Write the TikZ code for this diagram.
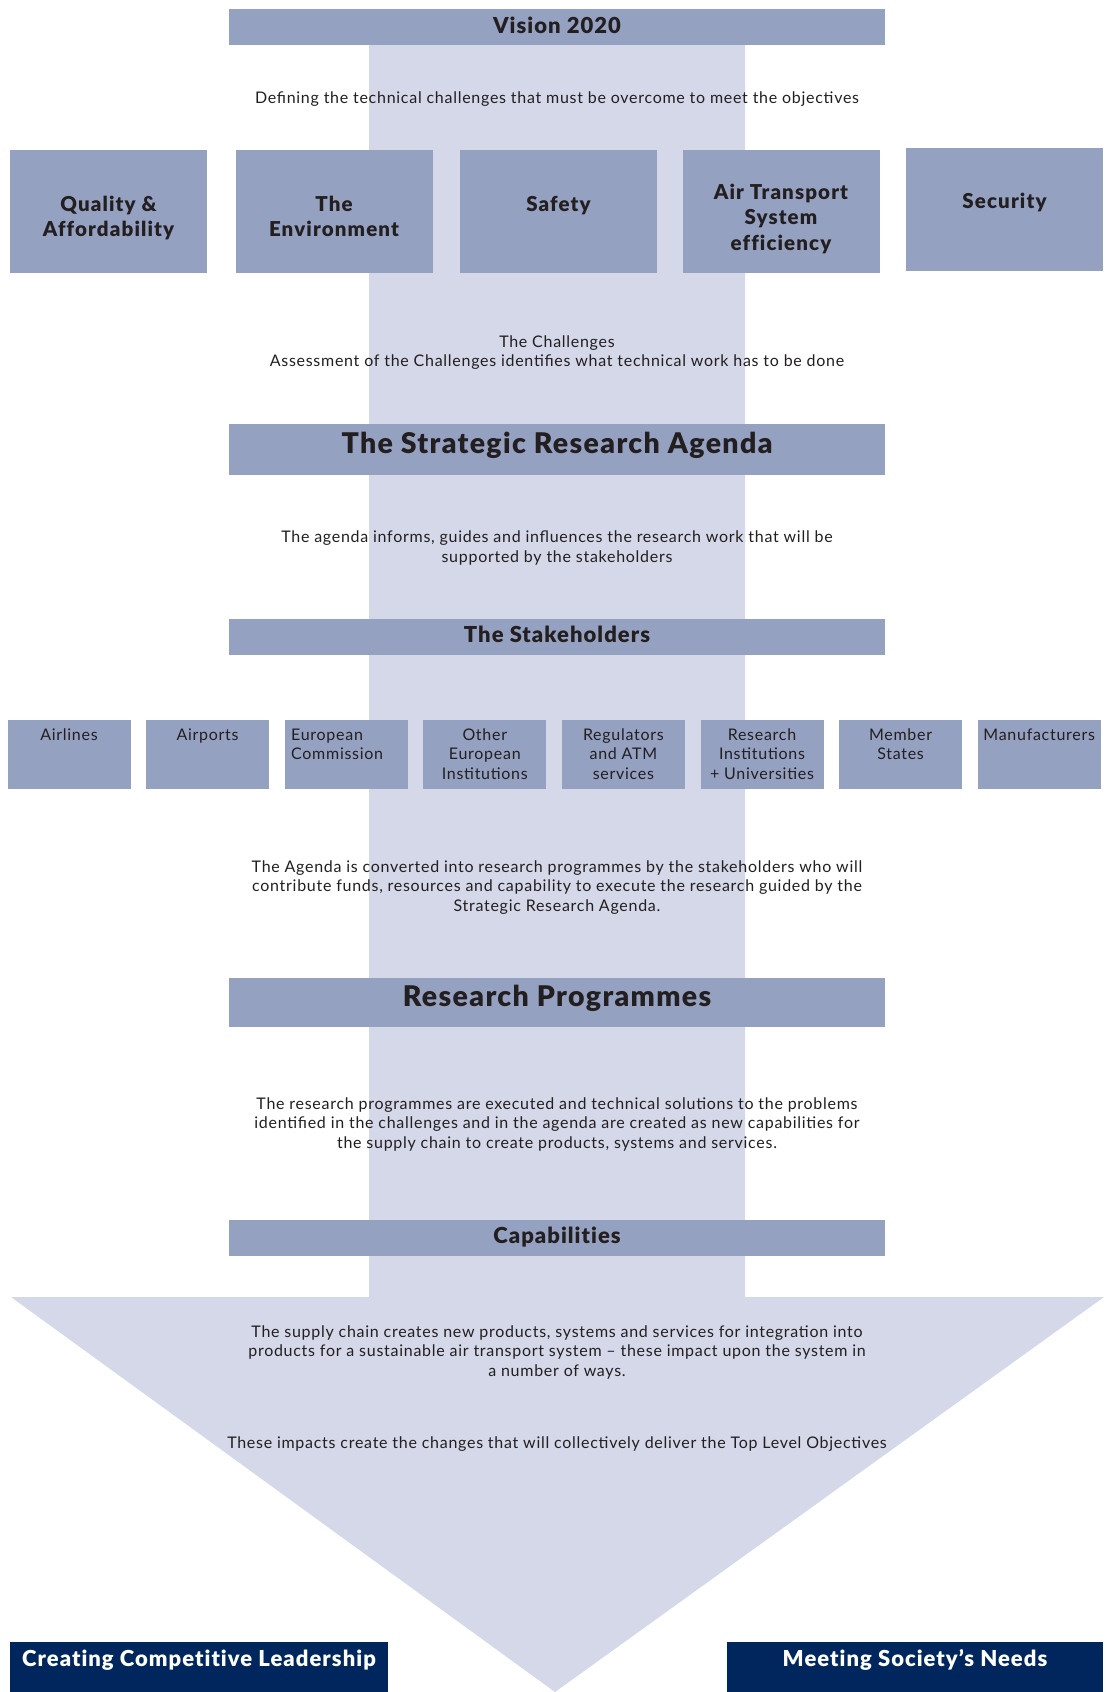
\documentclass[tikz,border=0pt]{standalone}
\usepackage{fontspec}
\setmainfont{Lato}[LetterSpace=4.5]
\newfontfamily\heavy{Lato Black}[LetterSpace=4.7, Ligatures=NoCommon]
\newfontfamily\heavyC{Lato Black}[LetterSpace=5.5, Ligatures=NoCommon]
\definecolor{boxc}{RGB}{149,161,193}
\definecolor{lightc}{RGB}{212,216,233}
\definecolor{navy}{RGB}{0,38,94}
\definecolor{ink}{RGB}{35,31,32}
\tikzset{
  hbox/.style={fill=boxc, draw=none, inner sep=0pt, minimum width=656pt},
  htext/.style={anchor=base, inner sep=0pt, text=ink, font=\heavy\fontsize{22}{25}\selectfont},
  bigtext/.style={anchor=base, inner sep=0pt, text=ink, font=\heavy\fontsize{28.5}{30}\selectfont},
  cbox/.style={fill=boxc, draw=none, inner sep=0pt, minimum width=197pt, minimum height=123pt},
  ctext/.style={anchor=base, inner sep=0pt, align=center, text=ink, font=\heavyC\fontsize{20.5}{25.5}\selectfont},
  body/.style={anchor=base, inner sep=0pt, align=center, text=ink, font=\fontsize{16}{19.5}\selectfont},
  sbox/.style={fill=boxc, draw=none, inner sep=0pt, minimum width=123pt, minimum height=69pt},
  stext/.style={anchor=base, inner sep=0pt, align=center, text=ink, font=\fontsize{16}{19.5}\selectfont},
  nbox/.style={fill=navy, draw=none, inner sep=0pt, minimum height=50pt},
  ntext/.style={anchor=base, inner sep=0pt, text=white, font=\heavy\fontsize{22}{25}\selectfont}
}
\begin{document}
\begin{tikzpicture}[x=1pt,y=-1pt]
\useasboundingbox (0,0) rectangle (1106,1692);
% background arrow
\fill[lightc] (369,45) -- (745,45) -- (745,1297) -- (1104,1297) -- (555,1692) -- (11,1297) -- (369,1297) -- cycle;

% Vision 2020
\node[hbox, minimum height=36pt] (vision) at (557,27) {};
\node[htext] (visiont) at (557,33.5) {Vision 2020};
\node[body] (defining) at (557,103) {Defining the technical challenges that must be overcome to meet the objectives};

% Challenges
\node[cbox] (qa) at (108.5,211.5) {};
\node[cbox] (env) at (334,211.5) {};
\node[cbox] (saf) at (558.5,211.5) {};
\node[cbox] (ats) at (781,211.5) {};
\node[cbox] (sec) at (1004.5,209.5) {};
\node[ctext] (qat) at (108.5,236.5) {Quality \&\\Affordability};
\node[ctext] (envt) at (334,236.5) {The\\Environment};
\node[ctext] (saft) at (558.5,211) {Safety};
\node[ctext] (atst) at (781,250) {Air Transport\\System\\efficiency};
\node[ctext] (sect) at (1004.5,208) {Security};

\node[body] (chall) at (557,366.5) {The Challenges\\Assessment of the Challenges identifies what technical work has to be done};

% SRA
\node[hbox, minimum height=51pt] (sra) at (557,449.5) {};
\node[bigtext] (srat) at (557,453.5) {The Strategic Research Agenda};
\node[body] (agenda) at (557,562) {The agenda informs, guides and influences the research work that will be\\supported by the stakeholders};

% Stakeholders
\node[hbox, minimum height=36pt] (stake) at (557,637) {};
\node[htext] (staket) at (557,642.5) {The Stakeholders};

\node[sbox] (s1) at (69,754.5) {};
\node[sbox] (s2) at (207.6,754.5) {};
\node[sbox] (s3) at (346.2,754.5) {};
\node[sbox] (s4) at (484.8,754.5) {};
\node[sbox] (s5) at (623.4,754.5) {};
\node[sbox] (s6) at (762,754.5) {};
\node[sbox] (s7) at (900.6,754.5) {};
\node[sbox] (s8) at (1039.2,754.5) {};
\node[stext] (s1t) at (69,740) {Airlines};
\node[stext] (s2t) at (207.6,740) {Airports};
\node[stext, anchor=base west, align=left] (s3t) at (291,759.5) {European\\Commission};
\node[stext] (s4t) at (484.8,779) {Other\\European\\Institutions};
\node[stext] (s5t) at (623.4,779) {Regulators\\and ATM\\services};
\node[stext] (s6t) at (762,779) {Research\\Institutions\\+ Universities};
\node[stext] (s7t) at (900.6,759.5) {Member\\States};
\node[stext] (s8t) at (1039.2,740) {Manufacturers};

\node[body] (convert) at (557,911) {The Agenda is converted into research programmes by the stakeholders who will\\contribute funds, resources and capability to execute the research guided by the\\Strategic Research Agenda.};

% Research programmes
\node[hbox, minimum height=49pt] (rp) at (557,1002.5) {};
\node[bigtext] (rpt) at (557,1006.5) {Research Programmes};
\node[body] (execute) at (557,1148) {The research programmes are executed and technical solutions to the problems\\identified in the challenges and in the agenda are created as new capabilities for\\the supply chain to create products, systems and services.};

% Capabilities
\node[hbox, minimum height=36pt] (cap) at (557,1238) {};
\node[htext] (capt) at (557,1243.5) {Capabilities};

\node[body] (supply) at (557,1376) {The supply chain creates new products, systems and services for integration into\\products for a sustainable air transport system -- these impact upon the system in\\a number of ways.};
\node[body] (impacts) at (557,1448) {These impacts create the changes that will collectively deliver the Top Level Objectives};

% outcomes
\node[nbox, minimum width=378pt] (ccl) at (199,1667) {};
\node[ntext] (cclt) at (199,1666.5) {Creating Competitive Leadership};
\node[nbox, minimum width=376pt] (msn) at (915,1667) {};
\node[ntext] (msnt) at (915,1666.5) {Meeting Society’s Needs};
\end{tikzpicture}
\end{document}
